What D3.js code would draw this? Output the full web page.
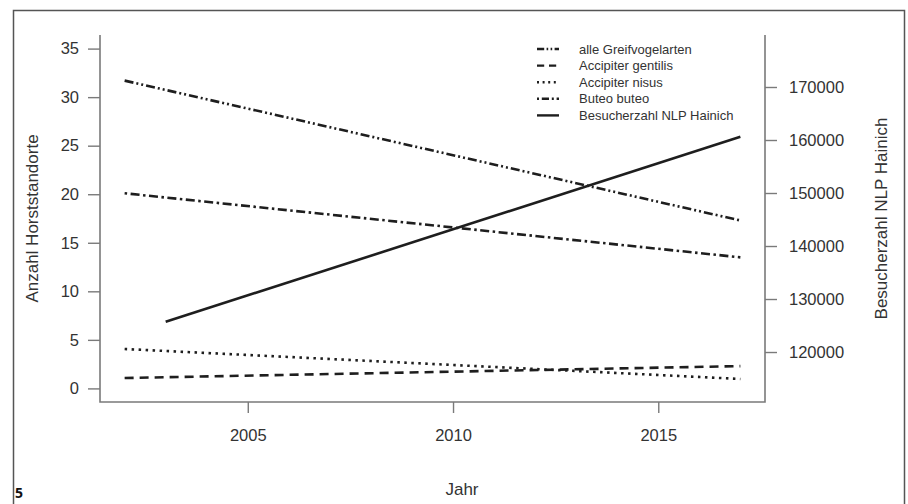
<!DOCTYPE html>
<html>
<head>
<meta charset="utf-8">
<script src="https://cdn.jsdelivr.net/npm/d3@7"></script>
<style>
  body { margin: 0; background: #fff; }
  #chart { width: 908px; height: 504px; }
  text { font-family: "Liberation Sans", Arial, sans-serif; }
</style>
</head>
<body>
<div id="chart"></div>
<script>
// Data (end points of the fitted trend lines)
const years = [2002, 2017];
const visitorYears = [2003, 2017];
const alleGreif = [31.7, 17.3];
const accGentilis = [1.07, 2.3];
const accNisus = [4.06, 0.97];
const buteoButeo = [20.1, 13.5];
const besucher = [125700, 160600];

const leftTicks = [0, 5, 10, 15, 20, 25, 30, 35];
const rightTicks = [120000, 130000, 140000, 150000, 160000, 170000];
const xTicks = [2005, 2010, 2015];

const seriesNames = ["alle Greifvogelarten", "Accipiter gentilis", "Accipiter nisus", "Buteo buteo", "Besucherzahl NLP Hainich"];
const dashes = ["9,3,2,3,2,3", "9,6", "2.5,4.5", "2.5,3.5,9,3.5", null];

const width = 908, height = 504;
const plot = { left: 100, right: 765, top: 35, bottom: 402 };

const svg = d3.select("#chart").append("svg")
  .attr("width", width)
  .attr("height", height);

// outer frame of the figure
svg.append("path")
  .attr("d", `M13.5,${height} V10.5 H904.5 V${height}`)
  .attr("fill", "none")
  .attr("stroke", "#555")
  .attr("stroke-width", 1.5);

svg.append("text")
  .attr("x", 15)
  .attr("y", 498)
  .style("font-size", "14px")
  .style("font-weight", "bold")
  .style("font-family", "'Open Sans', 'DejaVu Sans', sans-serif")
  .attr("fill", "#111")
  .text("5");

// scales (R style: ranges padded by 4%)
const x = d3.scaleLinear().domain([2001.4, 2017.6]).range([plot.left, plot.right]);
const yL = d3.scaleLinear().domain([-1.4, 36.4]).range([plot.bottom, plot.top]);
const yR = d3.scaleLinear().domain([110570, 179810]).range([plot.bottom, plot.top]);

const axisColor = "#7a7a7a";
const textColor = "#333";
const tickFont = "16.5px";
const titleFont = "17px";

// box: left, bottom, right
svg.append("path")
  .attr("d", `M${plot.left},${plot.top} V${plot.bottom} H${plot.right} V${plot.top}`)
  .attr("fill", "none")
  .attr("stroke", axisColor)
  .attr("stroke-width", 1.6);

// left axis
const gL = svg.append("g")
  .attr("transform", `translate(${plot.left},0)`)
  .call(d3.axisLeft(yL).tickValues(leftTicks).tickSize(12).tickPadding(9).tickSizeOuter(0));
gL.select(".domain").remove();
gL.selectAll("line").attr("stroke", axisColor).attr("stroke-width", 1.4);
gL.selectAll("text").style("font-size", tickFont).attr("fill", textColor);

// right axis
const gR = svg.append("g")
  .attr("transform", `translate(${plot.right},0)`)
  .call(d3.axisRight(yR).tickValues(rightTicks).tickSize(12).tickPadding(12).tickFormat(d3.format("d")));
gR.select(".domain").remove();
gR.selectAll("line").attr("stroke", axisColor).attr("stroke-width", 1.4);
gR.selectAll("text").style("font-size", tickFont).attr("fill", textColor);

// bottom axis
const gB = svg.append("g")
  .attr("transform", `translate(0,${plot.bottom})`)
  .call(d3.axisBottom(x).tickValues(xTicks).tickSize(11).tickPadding(16).tickFormat(d3.format("d")));
gB.select(".domain").remove();
gB.selectAll("line").attr("stroke", axisColor).attr("stroke-width", 1.4);
gB.selectAll("text").style("font-size", tickFont).attr("fill", textColor);

// axis titles
svg.append("text")
  .attr("transform", `translate(38,${(plot.top + plot.bottom) / 2}) rotate(-90)`)
  .attr("text-anchor", "middle")
  .style("font-size", titleFont)
  .attr("fill", textColor)
  .text("Anzahl Horststandorte");

svg.append("text")
  .attr("transform", `translate(887,${(plot.top + plot.bottom) / 2}) rotate(-90)`)
  .attr("text-anchor", "middle")
  .style("font-size", titleFont)
  .attr("fill", textColor)
  .text("Besucherzahl NLP Hainich");

svg.append("text")
  .attr("x", 462)
  .attr("y", 495)
  .attr("text-anchor", "middle")
  .style("font-size", titleFont)
  .attr("fill", textColor)
  .text("Jahr");

// lines
const lineColor = "#1e1e1e";
const leftSeries = [alleGreif, accGentilis, accNisus, buteoButeo];
const lineL = d3.line().x((d, i) => x(years[i])).y(d => yL(d));
leftSeries.forEach((vals, k) => {
  svg.append("path")
    .datum(vals)
    .attr("d", lineL)
    .attr("fill", "none")
    .attr("stroke", lineColor)
    .attr("stroke-width", 2.6)
    .attr("stroke-dasharray", dashes[k]);
});

const lineR = d3.line().x((d, i) => x(visitorYears[i])).y(d => yR(d));
svg.append("path")
  .datum(besucher)
  .attr("d", lineR)
  .attr("fill", "none")
  .attr("stroke", lineColor)
  .attr("stroke-width", 2.6);

// legend
const legend = svg.append("g").attr("transform", "translate(537,49)");
const items = legend.selectAll("g")
  .data(seriesNames)
  .enter().append("g")
  .attr("transform", (d, i) => `translate(0,${i * 16.6})`);
items.append("line")
  .attr("x1", 0).attr("x2", 22)
  .attr("y1", 0).attr("y2", 0)
  .attr("stroke", lineColor)
  .attr("stroke-width", 2.4)
  .attr("stroke-dasharray", (d, i) => dashes[i] ? dashes[i].split(",").map(v => v * 0.8).join(",") : null);
items.append("text")
  .attr("x", 42)
  .attr("y", 0)
  .attr("dy", "0.35em")
  .style("font-size", "13px")
  .attr("fill", textColor)
  .text(d => d);
</script>
</body>
</html>
